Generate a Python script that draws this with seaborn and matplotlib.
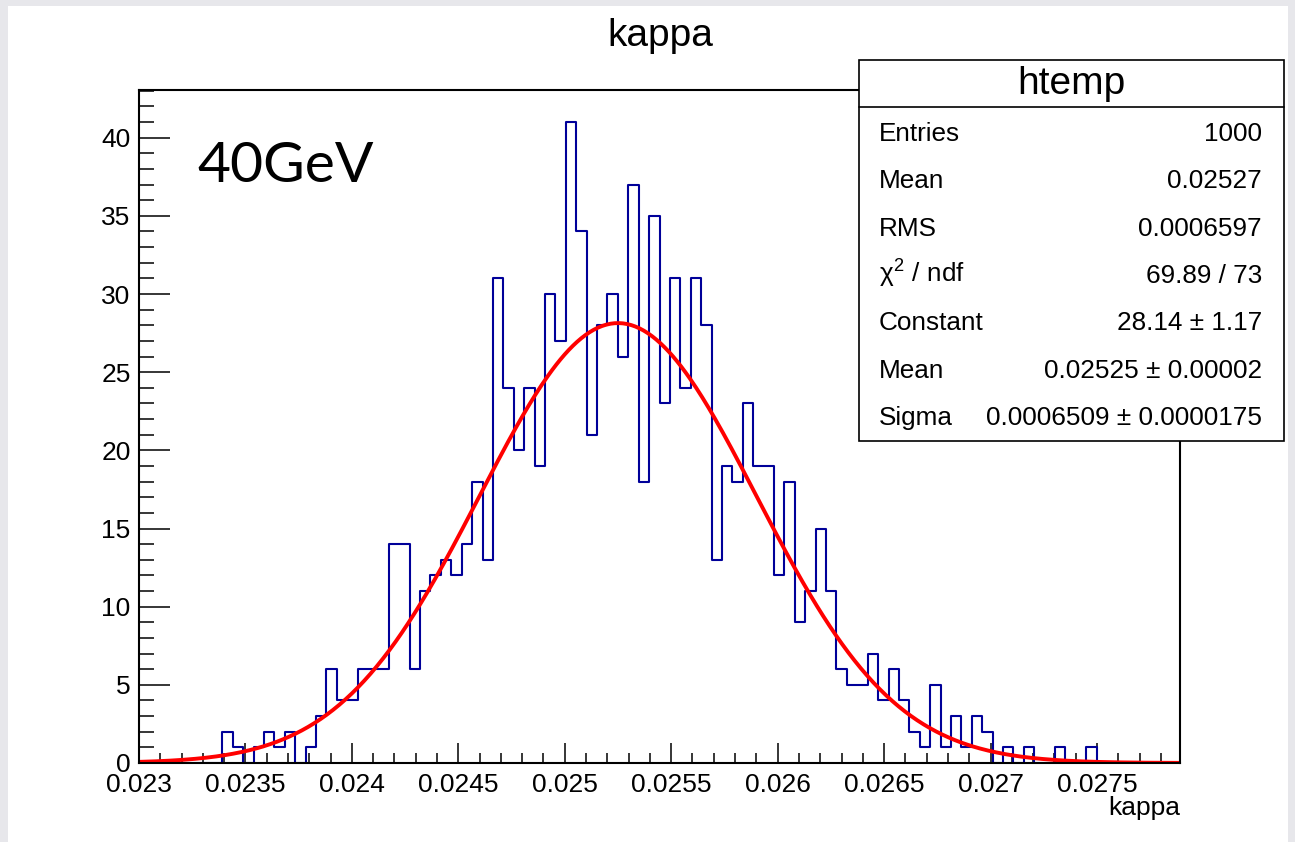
import numpy as np
import pandas as pd
import matplotlib
matplotlib.use("Agg")
import matplotlib.pyplot as plt
import seaborn as sns
from matplotlib.patches import Rectangle
from matplotlib.lines import Line2D
from matplotlib.ticker import FixedLocator

# ---------------- data ----------------
x_min = 0.023
x_max = 0.02789
n_bins = 100
counts = [0, 0, 0, 0, 0, 0, 0, 0, 2, 1,
          0, 1, 2, 1, 2, 0, 1, 3, 6, 4,
          4, 6, 6, 6, 14, 14, 6, 11, 12, 13,
          12, 14, 18, 13, 31, 24, 20, 24, 19, 30,
          27, 41, 34, 21, 28, 30, 26, 37, 18, 35,
          23, 31, 24, 31, 28, 13, 19, 18, 23, 19,
          19, 12, 18, 9, 11, 15, 11, 6, 5, 5,
          7, 4, 6, 4, 2, 1, 5, 1, 3, 1,
          3, 2, 0, 1, 0, 1, 0, 0, 1, 0,
          0, 1, 0, 0, 0, 0, 0, 0, 0, 0]
fit_constant = 28.14
fit_mean = 0.02525
fit_sigma = 0.0006509

x_tick_values = [0.023, 0.0235, 0.024, 0.0245, 0.025, 0.0255, 0.026, 0.0265, 0.027, 0.0275]
x_tick_labels = ["0.023", "0.0235", "0.024", "0.0245", "0.025", "0.0255",
                 "0.026", "0.0265", "0.027", "0.0275"]
y_tick_values = [0, 5, 10, 15, 20, 25, 30, 35, 40]
y_max = 43.05

title = "kappa"
x_label = "kappa"
energy_label = "40GeV"
stats_title = "htemp"
stats_names = ["Entries", "Mean", "RMS", r"$\chi^{2}$ / ndf", "Constant", "Mean", "Sigma"]
stats_values = ["1000", "0.02527", "0.0006597", "69.89 / 73", "28.14 ± 1.17",
                "0.02525 ± 0.00002", "0.0006509 ± 0.0000175"]

# ---------------- style ----------------
sns.set_theme(style="white")
plt.rcParams["font.family"] = ["Liberation Sans", "DejaVu Sans"]
plt.rcParams["mathtext.fontset"] = "custom"
plt.rcParams["mathtext.rm"] = "Liberation Sans"
plt.rcParams["mathtext.it"] = "Liberation Sans"

W, H = 1295, 842
fig = plt.figure(figsize=(W / 100, H / 100), dpi=100, facecolor="#e7e7eb")

def fx(px):
    return px / W

def fy(py):
    return 1 - py / H

# white canvas
fig.add_artist(Rectangle((fx(8), 0), fx(1288) - fx(8), fy(6), transform=fig.transFigure,
                         facecolor="white", edgecolor="none", zorder=-1))

ax = fig.add_axes([fx(139), fy(763), fx(1180) - fx(139), fy(90) - fy(763)])
ax.set_facecolor("white")

edges = np.linspace(x_min, x_max, n_bins + 1)
centers = 0.5 * (edges[:-1] + edges[1:])
df = pd.DataFrame({"kappa": centers, "count": counts})

sns.histplot(data=df, x="kappa", weights="count", bins=n_bins, binrange=(x_min, x_max),
             element="step", fill=False, color="#000099", linewidth=1.5, ax=ax)

xs = np.linspace(x_min, x_max, 500)
ys = fit_constant * np.exp(-0.5 * ((xs - fit_mean) / fit_sigma) ** 2)
sns.lineplot(x=xs, y=ys, color="#ff0000", linewidth=2.8, ax=ax)

ax.set_xlim(x_min, x_max)
ax.set_ylim(0, y_max)

ax.set_xticks(x_tick_values)
ax.set_xticklabels(x_tick_labels)
ax.xaxis.set_minor_locator(FixedLocator(np.round(np.arange(x_min, x_max, 0.0001), 5)))
ax.set_yticks(y_tick_values)
ax.set_yticklabels([str(v) for v in y_tick_values])
ax.yaxis.set_minor_locator(FixedLocator(np.arange(0, 44, 1)))

ax.tick_params(axis="x", which="major", direction="in", length=14.4, width=1.1,
               labelsize=19, pad=7, bottom=True, top=False, colors="black")
ax.tick_params(axis="x", which="minor", direction="in", length=7.2, width=1.1,
               bottom=True, top=False, colors="black")
ax.tick_params(axis="y", which="major", direction="in", length=22.3, width=1.1,
               labelsize=19, pad=6, left=True, right=False, colors="black")
ax.tick_params(axis="y", which="minor", direction="in", length=10.8, width=1.1,
               left=True, right=False, colors="black")

for sp in ax.spines.values():
    sp.set_visible(True)
    sp.set_color("black")
    sp.set_linewidth(1.5)

ax.set_ylabel("")
ax.set_xlabel(x_label, fontsize=19, color="black", ha="right", va="center")
ax.xaxis.set_label_coords(1.0, -(808 - 763) / (763 - 90))

# title
fig.text(fx(660), fy(36), title, fontsize=28, ha="center", va="center", color="black")

# energy label
fig.text(fx(197), fy(182), energy_label, fontsize=41, family=["Lato", "DejaVu Sans"],
         ha="left", va="baseline", color="black")

# stats box
fig.add_artist(Rectangle((fx(859), fy(441)), fx(1284) - fx(859), fy(60) - fy(441),
                         transform=fig.transFigure, facecolor="white",
                         edgecolor="black", linewidth=1.2, zorder=5))
fig.add_artist(Line2D([fx(859), fx(1284)], [fy(107), fy(107)], transform=fig.transFigure,
                      color="black", linewidth=1.2, zorder=6))
fig.text(fx(1071.5), fy(84), stats_title, fontsize=28, ha="center", va="center",
         color="black", zorder=7)
for i, (name, val) in enumerate(zip(stats_names, stats_values)):
    base = 140.7 + 47.4 * i
    fig.text(fx(879), fy(base), name, fontsize=18.8, ha="left", va="baseline",
             color="black", zorder=7)
    fig.text(fx(1262), fy(base), val, fontsize=18.8, ha="right", va="baseline",
             color="black", zorder=7)

fig.savefig("out.png", dpi=100, facecolor=fig.get_facecolor())
